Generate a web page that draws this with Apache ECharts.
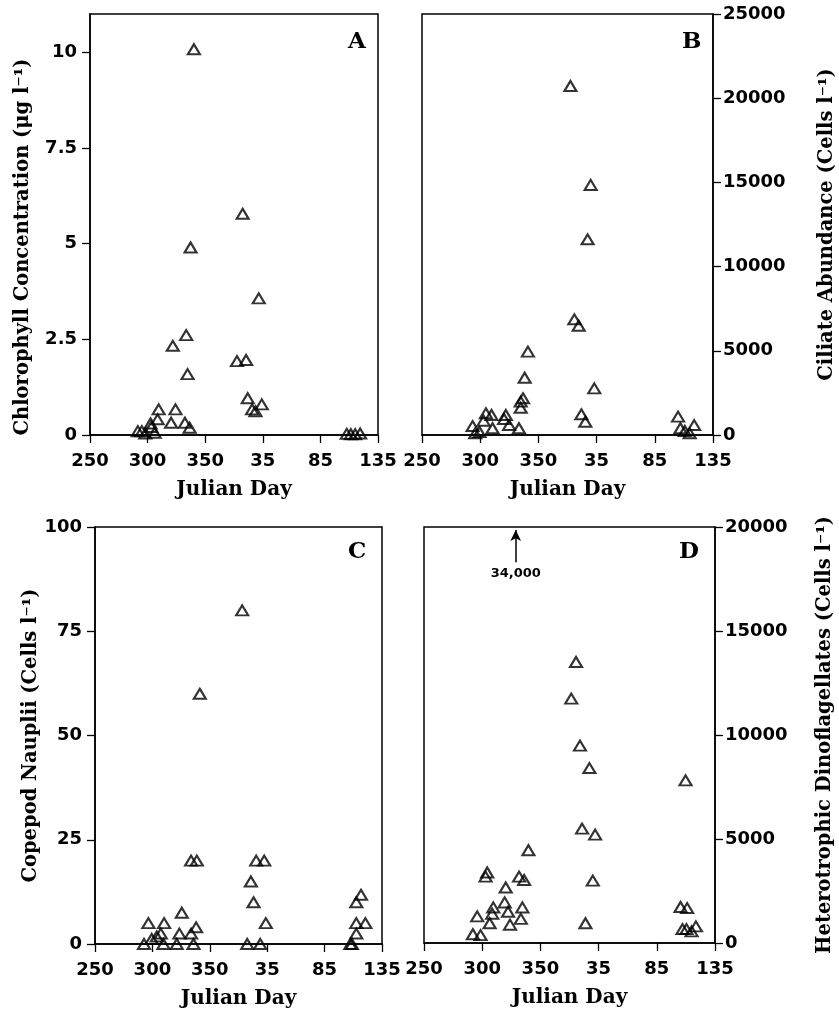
<!DOCTYPE html>
<html>
<head>
<meta charset="utf-8">
<script src="https://cdn.jsdelivr.net/npm/echarts@6/dist/echarts.min.js"></script>
<style>
html,body{margin:0;padding:0;background:#fff;}
#chart{width:839px;height:1018px;}
</style>
</head>
<body>
<div id="chart"></div>
<script>
// X axis: continuous day count (250..500); labels wrap after day 365
const dayTicks = [250, 300, 350, 400, 450, 500];

// Panel A: Chlorophyll concentration (µg l-1)
const chlDay = [340.2, 382.5, 337.3, 396.5, 333.5, 321.9, 377.6, 385.5, 334.7, 386.9, 390.7, 393.6, 399.1, 309.6, 324.2, 308.7, 320.4, 332.4, 336.5, 291.5, 295.0, 298.0, 302.6, 303.2, 306.1, 472.9, 476.4, 480.2, 484.5];
const chlVal = [10.08, 5.78, 4.90, 3.57, 2.61, 2.33, 1.93, 1.96, 1.59, 0.96, 0.67, 0.62, 0.80, 0.67, 0.67, 0.41, 0.32, 0.32, 0.19, 0.10, 0.10, 0.04, 0.30, 0.21, 0.06, 0.03, 0.02, 0.02, 0.04];
const chlTicks = [0, 2.5, 5, 7.5, 10];

// Panel B: Ciliate abundance (cells l-1)
const cilDay = [377.5, 394.9, 392.3, 380.9, 384.6, 341.0, 338.2, 398.0, 336.8, 334.8, 334.8, 386.9, 390.3, 304.9, 309.7, 322.0, 320.5, 302.9, 324.8, 333.3, 310.6, 293.5, 295.7, 299.4, 470.0, 472.0, 475.8, 480.0, 483.8];
const cilVal = [20725, 14850, 11620, 6870, 6490, 4950, 3400, 2770, 2180, 1980, 1620, 1230, 790, 1290, 1190, 1190, 950, 850, 590, 400, 400, 530, 100, 180, 1090, 400, 240, 100, 590];
const cilTicks = [0, 5000, 10000, 15000, 20000, 25000];

// Panel C: Copepod nauplii (cells l-1)
const copDay = [378.2, 341.3, 333.7, 338.7, 390.4, 397.4, 385.8, 388.1, 398.8, 382.6, 393.9, 325.6, 296.5, 310.2, 338.1, 307.3, 323.5, 333.7, 299.4, 303.8, 292.7, 309.6, 321.2, 335.8, 481.7, 477.6, 477.6, 485.5, 477.6, 472.4, 473.8];
const copVal = [80, 60, 20, 20, 20, 20, 15, 10, 5, 0, 0, 7.5, 5, 5, 4, 2.5, 2.5, 2.5, 1.2, 1.8, 0, 0, 0, 0, 11.8, 10, 5, 5, 2.5, 0, 0];
const copTicks = [0, 25, 50, 75, 100];

// Panel D: Heterotrophic dinoflagellates (cells l-1)
const dinDay = [380.6, 376.5, 384.0, 392.1, 474.7, 385.8, 397.0, 339.7, 395.0, 304.3, 302.9, 331.7, 336.0, 320.2, 319.3, 309.5, 308.6, 322.2, 334.5, 333.2, 295.7, 306.4, 323.9, 388.7, 292.0, 298.6, 470.4, 476.1, 472.1, 475.5, 479.9, 483.6];
const dinVal = [13510, 11750, 9490, 8410, 7820, 5500, 5210, 4460, 3000, 3390, 3190, 3190, 3030, 2670, 1950, 1710, 1410, 1500, 1710, 1160, 1280, 950, 880, 950, 420, 380, 1730, 1680, 670, 670, 560, 800];
const dinTicks = [0, 5000, 10000, 15000, 20000];

// Off-scale annotation in D
const offScaleDay = 328.8;
const offScaleArrow = [18300, 19850];
const offScaleText = '34,000';

const zip = (a, b) => a.map((v, i) => [v, b[i]]);

const titleFont = 'DejaVu Serif';
const tickFont = 'DejaVu Sans';

function xAxis(gi) {
  return {
    gridIndex: gi, type: 'value', min: dayTicks[0], max: dayTicks[dayTicks.length - 1], interval: 50,
    name: 'Julian Day', nameLocation: 'middle', nameGap: 45,
    nameTextStyle: {fontFamily: titleFont, fontWeight: 'bold', fontSize: 20, color: '#000'},
    axisLine: {show: true, lineStyle: {color: '#000', width: 1.5}},
    axisTick: {show: true, length: 8, lineStyle: {color: '#000', width: 1.3}},
    axisLabel: {margin: 17, fontFamily: tickFont, fontWeight: 'bold', fontSize: 18, color: '#000',
      formatter: v => String(v > 365 ? v - 365 : v)},
    splitLine: {show: false}
  };
}

function yAxis(gi, pos, max, ticks, name, gap, padding) {
  return {
    gridIndex: gi, type: 'value', position: pos, min: 0, max: max,
    name: name, nameLocation: 'middle', nameGap: gap, nameRotate: 90,
    nameTextStyle: {fontFamily: titleFont, fontWeight: 'bold', fontSize: 19.5, color: '#000', padding: padding || 0},
    axisLine: {show: true, lineStyle: {color: '#000', width: 1.5}},
    axisTick: {show: true, length: 8, customValues: ticks, lineStyle: {color: '#000', width: 1.3}},
    axisLabel: {margin: pos === 'left' ? 13 : 10, customValues: ticks, fontFamily: tickFont, fontWeight: 'bold', fontSize: 18, color: '#000',
      formatter: v => String(v)},
    splitLine: {show: false}
  };
}

function scatter(gi, data, extra) {
  return Object.assign({
    type: 'scatter', xAxisIndex: gi, yAxisIndex: gi, data: data,
    symbol: 'triangle', symbolSize: [12, 10],
    itemStyle: {color: 'rgba(255,255,255,0)', borderColor: '#000', borderWidth: 2.1},
    emphasis: {disabled: true}, silent: true, animation: false
  }, extra || {});
}

const gridBase = {show: true, borderColor: '#000', borderWidth: 1.5, backgroundColor: 'transparent', containLabel: false};

const option = {
  backgroundColor: '#fff',
  animation: false,
  grid: [
    Object.assign({left: 90, top: 14, width: 288, height: 421}, gridBase),
    Object.assign({left: 422, top: 14, width: 291, height: 421}, gridBase),
    Object.assign({left: 95, top: 527, width: 287, height: 417}, gridBase),
    Object.assign({left: 424, top: 527, width: 291, height: 416}, gridBase)
  ],
  xAxis: [xAxis(0), xAxis(1), xAxis(2), xAxis(3)],
  yAxis: [
    yAxis(0, 'left', 11, chlTicks, 'Chlorophyll Concentration (\u03bcg l\u207b\u00b9)', 57, [0, 45, 0, 0]),
    yAxis(1, 'right', 25000, cilTicks, 'Ciliate Abundance (Cells l\u207b\u00b9)', 104),
    yAxis(2, 'left', 100, copTicks, 'Copepod Nauplii (Cells l\u207b\u00b9)', 52),
    yAxis(3, 'right', 20000, dinTicks, 'Heterotrophic Dinoflagellates (Cells l\u207b\u00b9)', 100)
  ],
  series: [
    scatter(0, zip(chlDay, chlVal)),
    scatter(1, zip(cilDay, cilVal)),
    scatter(2, zip(copDay, copVal)),
    scatter(3, zip(dinDay, dinVal), {
      markLine: {
        silent: true, animation: false,
        symbol: ['none', 'arrow'], symbolSize: [8, 11],
        lineStyle: {color: '#000', width: 1.5, type: 'solid'},
        label: {show: true, position: 'start', distance: 5, formatter: offScaleText,
          fontFamily: tickFont, fontWeight: 'bold', fontSize: 13, color: '#000'},
        data: [[{coord: [offScaleDay, offScaleArrow[0]]}, {coord: [offScaleDay, offScaleArrow[1]]}]]
      }
    })
  ],
  graphic: [
    {type: 'text', left: 348, top: 31, style: {text: 'A', fontFamily: titleFont, fontWeight: 'bold', fontSize: 23, fill: '#000'}},
    {type: 'text', left: 682, top: 31, style: {text: 'B', fontFamily: titleFont, fontWeight: 'bold', fontSize: 23, fill: '#000'}},
    {type: 'text', left: 348, top: 541, style: {text: 'C', fontFamily: titleFont, fontWeight: 'bold', fontSize: 23, fill: '#000'}},
    {type: 'text', left: 679, top: 541, style: {text: 'D', fontFamily: titleFont, fontWeight: 'bold', fontSize: 23, fill: '#000'}}
  ]
};

const chart = echarts.init(document.getElementById('chart'), null, {renderer: 'canvas'});
chart.setOption(option);
</script>
</body>
</html>
